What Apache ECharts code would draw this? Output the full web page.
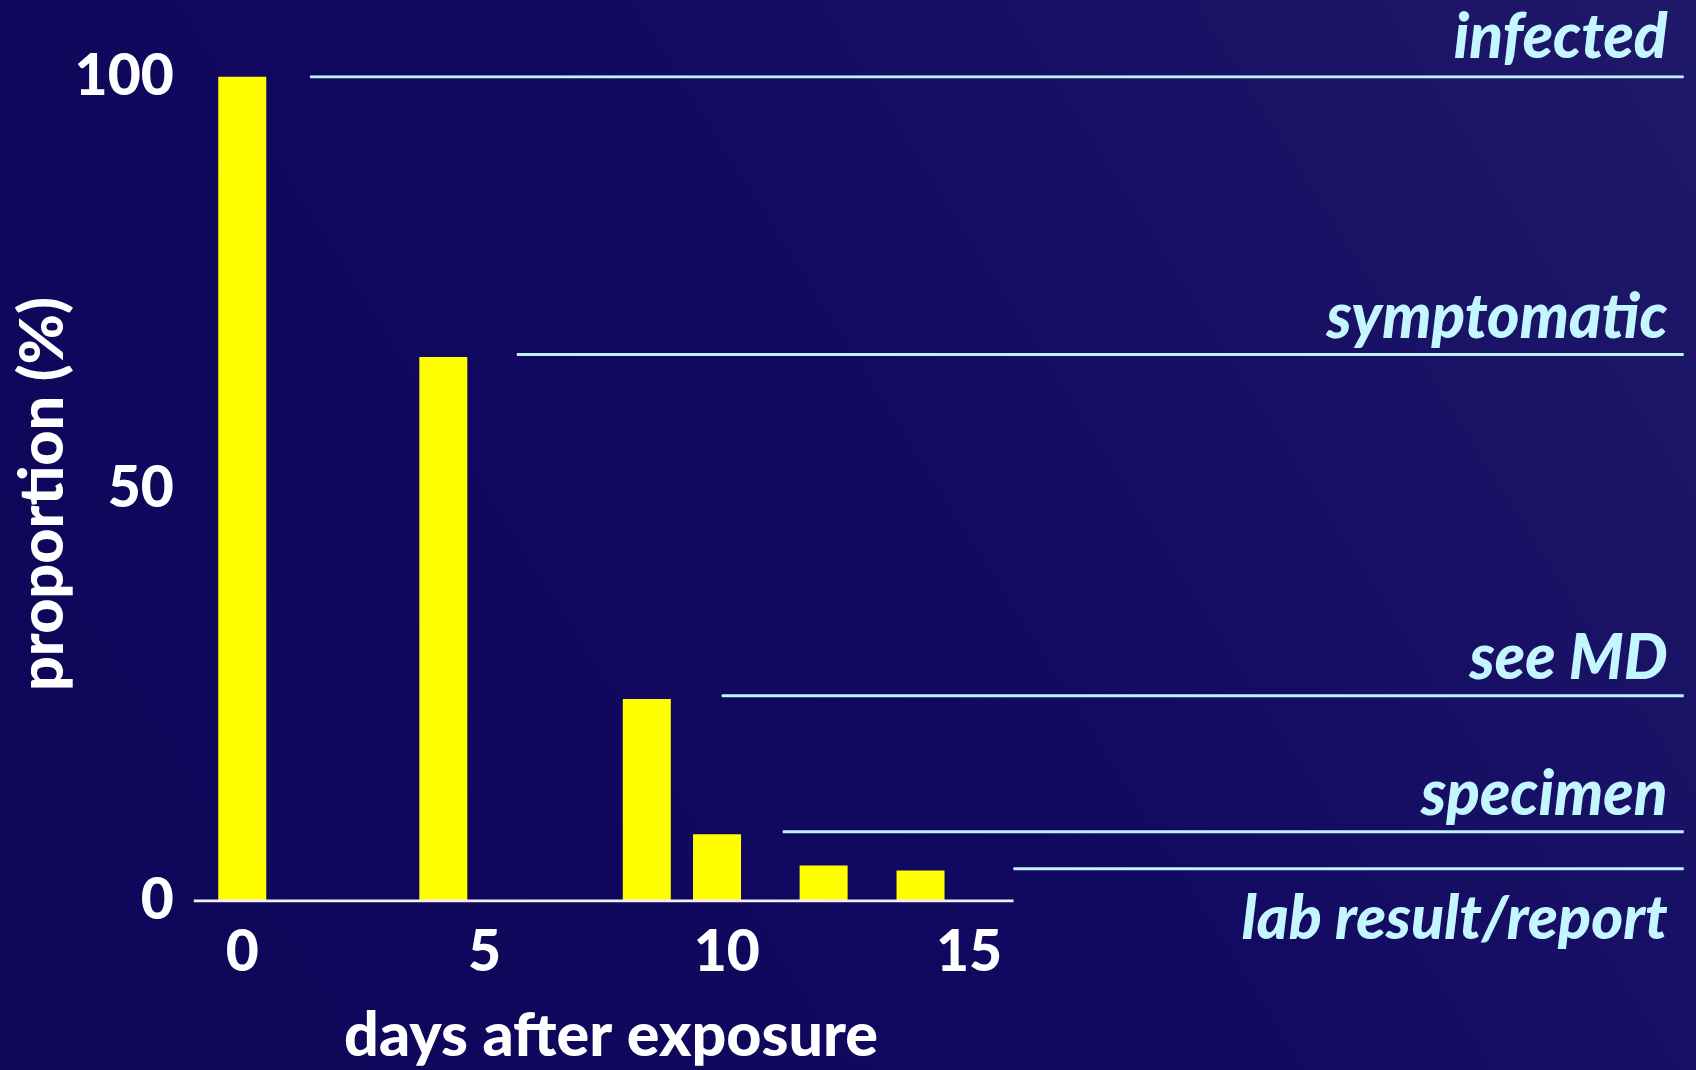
<!DOCTYPE html>
<html>
<head>
<meta charset="utf-8">
<style>
html,body{margin:0;padding:0;background:#0f075a;}
#chart{width:1696px;height:1070px;}
</style>
<script src="https://cdn.jsdelivr.net/npm/echarts@6/dist/echarts.min.js"></script>
</head>
<body>
<div id="chart"></div>
<script>
// ---- data ----
const barDays = [0, 4.15, 8.35, 9.8, 12, 14];
const barValues = [100, 66, 24.5, 8.1, 4.3, 3.7];
const stageNames = ['infected', 'symptomatic', 'see MD', 'specimen', 'lab result/report'];
const stageLevels = [100, 66.3, 24.9, 8.4, 3.9];
const stageStartDays = [1.4, 5.67, 9.9, 11.16, 15.92];
const stageEndDay = 29.75;
const xTickLabels = [0, 5, 10, 15];
const yTickLabels = [0, 50, 100];
const baselineRange = [-1, 15.92];
const xAxisTitle = 'days after exposure';
const yAxisTitle = 'proportion (%)';

const FONT = 'Lato';
const lineColor = '#bdf3ff';
const textColor = '#c4f6ff';
const labelGap = [7, 5, 5, 5, 19];
const labelSize = [62, 62, 62, 62, 61];

const chart = echarts.init(document.getElementById('chart'));

const stageSeries = stageNames.map((name, i) => {
  const below = i === stageNames.length - 1;
  return {
    type: 'line',
    name: name,
    silent: true,
    symbol: 'circle',
    symbolSize: 1,
    showSymbol: true,
    itemStyle: { color: lineColor },
    lineStyle: { color: lineColor, width: 3 },
    z: 3,
    data: [
      [stageStartDays[i], stageLevels[i]],
      {
        value: [stageEndDay, stageLevels[i]],
        label: {
          show: true,
          formatter: name,
          position: below ? 'bottom' : 'top',
          align: 'right',
          verticalAlign: below ? 'top' : 'bottom',
          distance: labelGap[i],
          offset: [-16, 0],
          color: textColor,
          fontFamily: FONT,
          fontStyle: 'italic',
          fontWeight: 900,
          fontSize: labelSize[i],
          lineHeight: labelSize[i]
        }
      }
    ]
  };
});

const option = {
  animation: false,
  backgroundColor: {
    type: 'linear', x: 0, y: 1, x2: 1, y2: 0,
    colorStops: [
      { offset: 0, color: '#0e0658' },
      { offset: 0.5, color: '#110960' },
      { offset: 1, color: '#201869' }
    ]
  },
  grid: { left: 193.8, right: 12.4, top: 76.8, bottom: 169, containLabel: false },
  xAxis: {
    type: 'value',
    min: baselineRange[0],
    max: stageEndDay,
    axisLine: { show: false },
    axisTick: { show: false },
    splitLine: { show: false },
    axisLabel: {
      customValues: xTickLabels,
      color: '#ffffff',
      fontFamily: FONT,
      fontWeight: 900,
      fontSize: 57,
      lineHeight: 57,
      margin: 23
    }
  },
  yAxis: {
    type: 'value',
    min: 0,
    max: 100,
    axisLine: { show: false },
    axisTick: { show: false },
    splitLine: { show: false },
    axisLabel: {
      customValues: yTickLabels,
      color: '#ffffff',
      fontFamily: FONT,
      fontWeight: 900,
      fontSize: 57,
      lineHeight: 57,
      margin: 20
    }
  },
  series: [
    {
      type: 'bar',
      name: 'proportion',
      barWidth: 48,
      itemStyle: { color: '#ffff00' },
      z: 2,
      data: barDays.map((d, i) => [d, barValues[i]])
    },
    {
      type: 'line',
      name: 'baseline',
      silent: true,
      symbol: 'none',
      lineStyle: { color: '#f2ecfa', width: 3 },
      z: 4,
      data: [[baselineRange[0], 0], [baselineRange[1], 0]]
    }
  ].concat(stageSeries),
  graphic: [
    {
      type: 'text',
      x: 611, y: 1036,
      style: {
        text: xAxisTitle,
        fill: '#ffffff',
        font: '900 61px Lato',
        align: 'center',
        verticalAlign: 'middle'
      }
    },
    {
      type: 'text',
      x: 43, y: 494,
      rotation: Math.PI / 2,
      style: {
        text: yAxisTitle,
        fill: '#ffffff',
        font: '900 61px Lato',
        align: 'center',
        verticalAlign: 'middle'
      }
    }
  ]
};
chart.setOption(option);
</script>
</body>
</html>
